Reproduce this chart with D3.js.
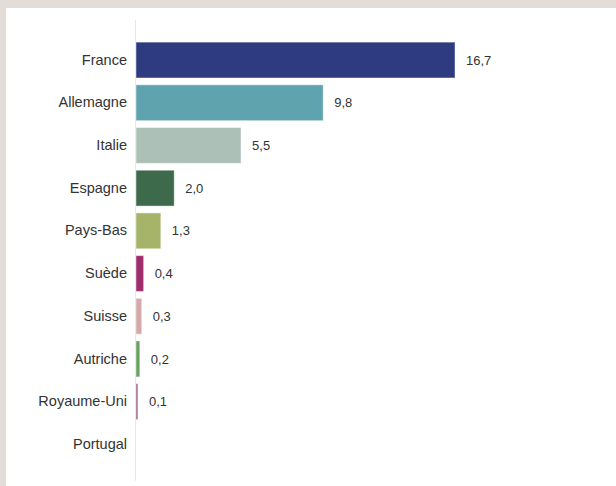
<!DOCTYPE html>
<html><head><meta charset="utf-8">
<script src="https://cdn.jsdelivr.net/npm/d3@7"></script>
<style>
html,body{margin:0;padding:0;background:#e2ddd8;}
svg{display:block;}
</style></head>
<body>
<script>
const categories = ["France","Allemagne","Italie","Espagne","Pays-Bas","Suède","Suisse","Autriche","Royaume-Uni","Portugal"];
const values = [16.7, 9.8, 5.5, 2.0, 1.3, 0.4, 0.3, 0.2, 0.1, 0];
const colors = ["#2e3b80","#5ea3ae","#adc0b7","#3c6a4b","#a5b468","#9f2f6a","#d4a9a8","#68a05f","#9e628c","#cccccc"];

const W = 616, H = 486;
const svg = d3.select("body").append("svg").attr("width", W).attr("height", H);
svg.append("rect").attr("x", 6).attr("y", 8).attr("width", W - 6).attr("height", H - 8).attr("fill", "#fff");

const x0 = 136;
const x = d3.scaleLinear().domain([0, 16.7]).range([x0, 455]);
const y = d3.scaleBand().domain(categories).range([38.7, 465.7]).paddingInner(0.16).paddingOuter(0.08);

svg.append("line").attr("x1", x0 - 0.5).attr("x2", x0 - 0.5).attr("y1", 20).attr("y2", 481)
  .attr("stroke", "#e6e6e6").attr("stroke-width", 1);

const fmt = v => d3.format(".1f")(v).replace(".", ",");

svg.selectAll("rect.bar").data(values).join("rect").attr("class","bar")
  .attr("x", x0)
  .attr("y", (d,i) => y(categories[i]))
  .attr("width", d => x(d) - x0)
  .attr("height", y.bandwidth())
  .attr("fill", (d,i) => colors[i])
  .attr("stroke", "rgba(255,255,255,0.45)").attr("stroke-width", 1);

const axis = d3.axisLeft(y).tickSize(0).tickPadding(9);
const g = svg.append("g").attr("transform", `translate(${x0},0)`).call(axis);
g.select(".domain").remove();
g.selectAll("text").attr("font-family", "Liberation Sans, Arial, sans-serif").attr("font-size", 14.5).attr("fill", "#333");

svg.selectAll("text.val").data(values).join("text").attr("class","val")
  .filter(d => d > 0)
  .attr("x", d => x(d) + 11)
  .attr("y", (d,i) => y(categories[i]) + y.bandwidth()/2)
  .attr("dy", "0.35em")
  .attr("font-family", "Liberation Sans, Arial, sans-serif").attr("font-size", 13).attr("fill", "#333")
  .text(d => fmt(d));
</script>
</body></html>
